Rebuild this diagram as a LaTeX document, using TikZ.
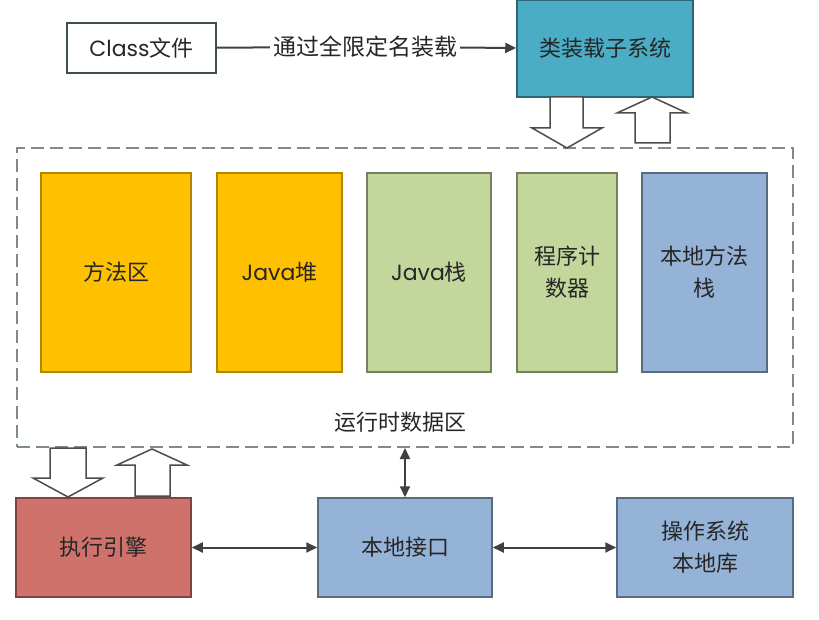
\documentclass[tikz,border=0pt]{standalone}
\usepackage{fontspec}
\setmainfont{Noto Sans CJK SC}
\newfontfamily\latinfont{Poppins}
\usetikzlibrary{arrows.meta, positioning}
\definecolor{loadercol}{HTML}{4BACC6}
\definecolor{orangecol}{HTML}{FFC000}
\definecolor{greencol}{HTML}{C3D69B}
\definecolor{bluecol}{HTML}{95B3D7}
\definecolor{redcol}{HTML}{D0726C}
\definecolor{edgecol}{HTML}{3F4F4A}
\definecolor{dashcol}{HTML}{7F8C80}
\tikzstyle{block}  = [rectangle, draw=edgecol, line width=1.5pt, text centered, align=center,
    inner sep=0pt, font=\fontsize{22}{32}\selectfont, text=black!85]
\tikzstyle{area}   = [rectangle, draw=dashcol, line width=2pt, dash pattern=on 13pt off 6pt]
\tikzstyle{hollow} = [draw=black!70, line width=1.5pt, fill=white, line join=miter]
\tikzstyle{arrow}  = [line width=2pt, draw=black!75, -{Triangle[length=11pt,width=10pt]}]
\tikzstyle{twoway} = [line width=2pt, draw=black!75, {Triangle[length=11pt,width=10pt]}-{Triangle[length=11pt,width=10pt]}]

\begin{document}
\begin{tikzpicture}[x=1pt, y=-1pt]
    \useasboundingbox (0,0) rectangle (819,620);
    % top row
    \node (cls)    [block, minimum width=149pt, minimum height=50pt] at (141.5,48) {{\latinfont Class}文件};
    \node (loader) [block, fill=loadercol, draw=loadercol!60!black, minimum width=176pt, minimum height=97pt] at (605,48.5) {类装载子系统};
    \node (load)   [font=\fontsize{23}{26}\selectfont, text=black!85, inner sep=3pt] at (365,47) {通过全限定名装载};
    \draw [line width=2pt, draw=black!75] (cls) -- (load);
    \draw [arrow] (load) -- (loader);
    % runtime data area
    \node (rt) [area, minimum width=776pt, minimum height=299pt] at (405,297.5) {};
    \node (method) [block, fill=orangecol, draw=orangecol!70!black, minimum width=150pt, minimum height=199pt] at (116,272.5) {方法区};
    \node (heap)   [block, fill=orangecol, draw=orangecol!70!black, minimum width=125pt, minimum height=199pt] at (279.5,272.5) {{\latinfont Java}堆};
    \node (jstack) [block, fill=greencol, draw=greencol!60!black, minimum width=124pt, minimum height=199pt] at (429,272.5) {{\latinfont Java}栈};
    \node (pc)     [block, fill=greencol, draw=greencol!60!black, minimum width=100pt, minimum height=199pt] at (567,272.5) {程序计\\数器};
    \node (nstack) [block, fill=bluecol, draw=bluecol!60!black, minimum width=125pt, minimum height=199pt] at (704.5,272.5) {本地方法\\栈};
    \node (rtlbl)  [font=\fontsize{22}{26}\selectfont, text=black!85] at (400,422) {运行时数据区};
    % bottom row
    \node (engine) [block, fill=redcol, draw=redcol!60!black, minimum width=175pt, minimum height=99pt] at (103.5,547.5) {执行引擎};
    \node (nif)    [block, fill=bluecol, draw=bluecol!60!black, minimum width=174pt, minimum height=99pt] at (405,547.5) {本地接口};
    \node (oslib)  [block, fill=bluecol, draw=bluecol!60!black, minimum width=176pt, minimum height=99pt] at (705,547.5) {操作系统\\本地库};
    \draw [twoway] (engine) -- (nif);
    \draw [twoway] (nif) -- (oslib);
    \draw [twoway] (rt.south -| nif.north) -- (nif.north);
    % hollow arrows
    \draw [hollow] (550,97) -- (583,97) -- (583,128) -- (602,128) -- (567,148) -- (532,128) -- (550,128) -- cycle;
    \draw [hollow] (635,143) -- (670,143) -- (670,113) -- (687,113) -- (652,97) -- (617,113) -- (635,113) -- cycle;
    \draw [hollow] (50,448) -- (86,448) -- (86,478) -- (103,478) -- (68,497) -- (33,478) -- (50,478) -- cycle;
    \draw [hollow] (135,496) -- (170,496) -- (170,465) -- (187,465) -- (152,449) -- (117,465) -- (135,465) -- cycle;
\end{tikzpicture}
\end{document}
